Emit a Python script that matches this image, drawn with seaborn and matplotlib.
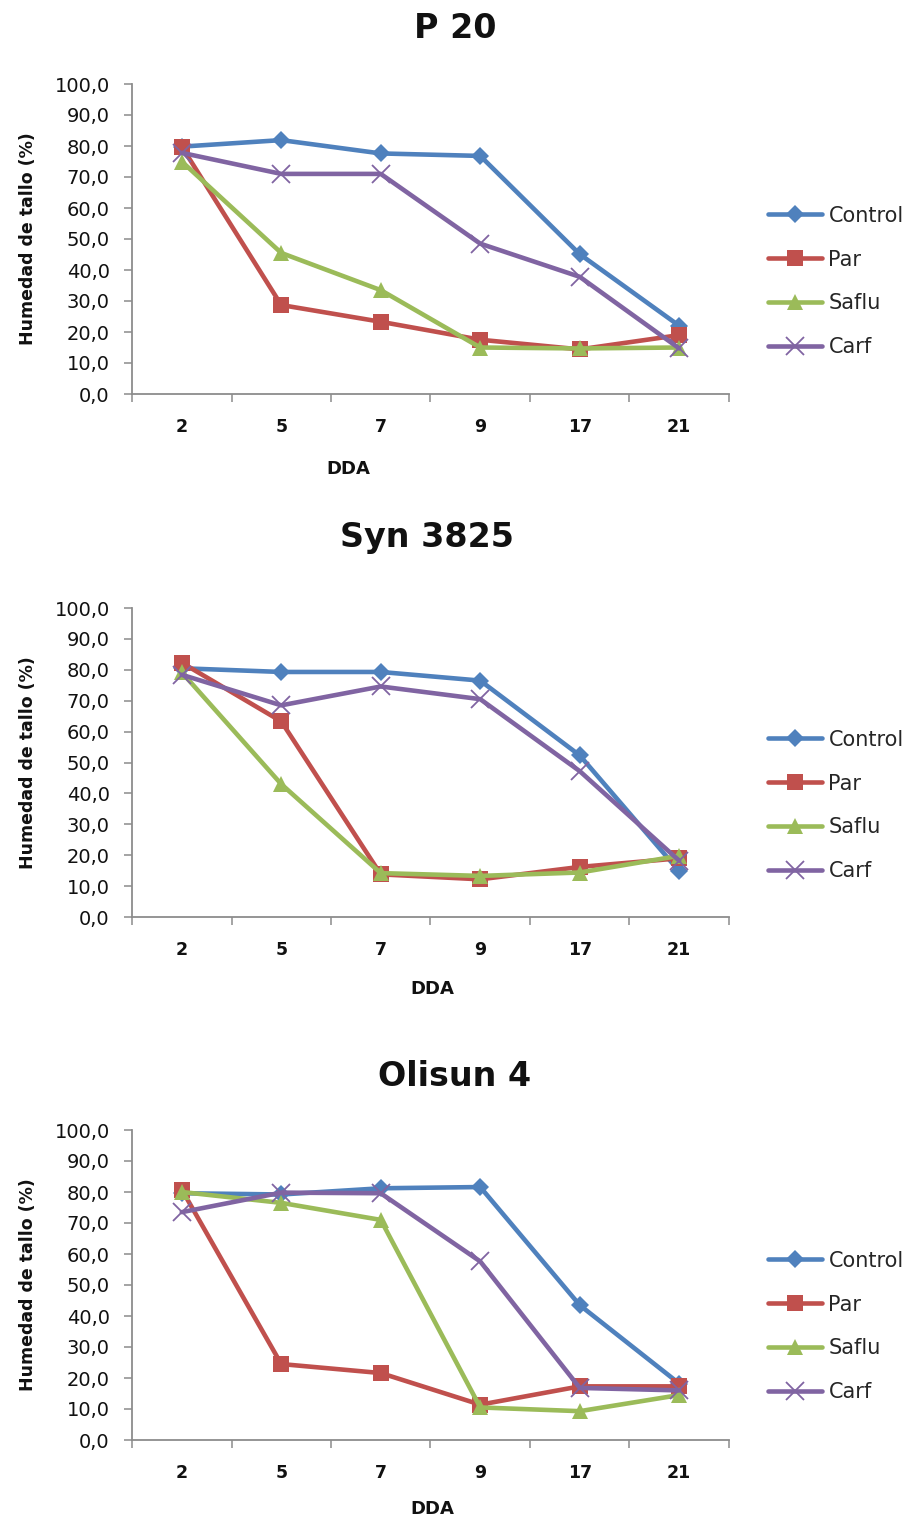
import numpy as np
import pandas as pd
import matplotlib
matplotlib.use("Agg")
import matplotlib.pyplot as plt
from matplotlib.ticker import FuncFormatter, FixedLocator
import seaborn as sns

# ---------------- data ----------------
dda = ["2", "5", "7", "9", "17", "21"]
treatments = ["Control", "Par", "Saflu", "Carf"]
y_ticks = [0, 10, 20, 30, 40, 50, 60, 70, 80, 90, 100]
panel_titles = ["P 20", "Syn 3825", "Olisun 4"]
x_label = "DDA"
y_label = "Humedad de tallo (%)"

p20_control = [79.8, 81.9, 77.6, 76.8, 45.1, 22.0]
p20_par = [79.8, 28.7, 23.3, 17.5, 14.4, 19.0]
p20_saflu = [75.0, 45.5, 33.5, 15.0, 14.7, 15.0]
p20_carf = [77.8, 71.0, 71.0, 48.5, 37.8, 14.7]

syn_control = [80.5, 79.3, 79.3, 76.5, 52.3, 14.8]
syn_par = [82.3, 63.3, 13.8, 12.2, 16.2, 19.0]
syn_saflu = [79.2, 43.0, 14.2, 13.3, 14.4, 19.8]
syn_carf = [78.4, 68.5, 74.6, 70.5, 47.2, 18.2]

oli_control = [79.6, 79.2, 81.2, 81.6, 43.5, 18.2]
oli_par = [80.8, 24.5, 21.6, 11.4, 17.3, 17.3]
oli_saflu = [80.0, 76.5, 71.0, 10.5, 9.3, 14.5]
oli_carf = [73.5, 79.8, 79.6, 57.6, 16.8, 16.0]

panels = [
    [p20_control, p20_par, p20_saflu, p20_carf],
    [syn_control, syn_par, syn_saflu, syn_carf],
    [oli_control, oli_par, oli_saflu, oli_carf],
]

# ---------------- style ----------------
palette = {"Control": "#4F81BD", "Par": "#C0504D", "Saflu": "#9BBB59", "Carf": "#8064A2"}
markers = {"Control": "D", "Par": "s", "Saflu": "^", "Carf": "o"}
final_marker = {"Control": "D", "Par": "s", "Saflu": "^", "Carf": "x"}
msize = {"Control": 9, "Par": 11, "Saflu": 11, "Carf": 13}

sns.set_theme(style="white")
plt.rcParams["font.family"] = ["DejaVu Sans"]

W, H = 912, 1519
fig = plt.figure(figsize=(W / 100, H / 100), dpi=100)

# axes boxes in pixels: (left, top, right, bottom)
boxes = [(132, 84, 729, 394), (132, 608, 729, 917), (132, 1130, 729, 1440)]
title_pos = [(455, 28), (427, 538), (455, 1076)]
xlabel_pos = [(348, 460), (432, 980), (432, 1500)]
legend_center = [281.5, 805.5, 1326.5]

spine_col = "#8c8c8c"

for i, (vals, box) in enumerate(zip(panels, boxes)):
    l, t, r, b = box
    ax = fig.add_axes([l / W, 1 - b / H, (r - l) / W, (b - t) / H])
    rows = []
    for tr, series in zip(treatments, vals):
        for pos, v in enumerate(series):
            rows.append({"pos": pos, "value": v, "treatment": tr})
    df = pd.DataFrame(rows)
    sns.lineplot(data=df, x="pos", y="value", hue="treatment", style="treatment",
                 hue_order=treatments, style_order=treatments, palette=palette,
                 markers=markers, dashes=False, linewidth=3.3, errorbar=None,
                 sort=False, legend=False, ax=ax)
    for line, tr in zip(ax.lines, treatments):
        c = palette[tr]
        line.set_marker(final_marker[tr])
        line.set_markeredgecolor(c)
        line.set_markerfacecolor(c)
        line.set_markersize(msize[tr])
        line.set_markeredgewidth(1.3 if tr == "Carf" else 0)
        line.set_solid_joinstyle("round")

    ax.set_ylim(0, 100)
    ax.set_xlim(-0.5, len(dda) - 0.5)
    ax.yaxis.set_major_locator(FixedLocator(y_ticks))
    ax.yaxis.set_major_formatter(FuncFormatter(lambda v, p: f"{v:.1f}".replace(".", ",")))
    ax.xaxis.set_major_locator(FixedLocator(np.arange(len(dda))))
    ax.set_xticklabels(dda, fontweight="bold", fontsize=12.5)
    ax.xaxis.set_minor_locator(FixedLocator(np.arange(len(dda) + 1) - 0.5))
    ax.tick_params(axis="x", which="major", length=0, pad=17, labelcolor="#111111")
    ax.tick_params(axis="x", which="minor", length=6, width=1.1, color=spine_col, direction="out", bottom=True)
    ax.tick_params(axis="y", which="major", length=6, width=1.1, color=spine_col, direction="out",
                   left=True, pad=10, labelsize=14, labelcolor="#111111")
    for s in ["top", "right"]:
        ax.spines[s].set_visible(False)
    for s in ["left", "bottom"]:
        ax.spines[s].set_color(spine_col)
        ax.spines[s].set_linewidth(1.3)
    ax.grid(False)

    ax.set_ylabel(y_label, fontweight="bold", fontsize=12.5, color="#111111")
    ax.yaxis.set_label_coords((37 - l) / (r - l), 0.5)
    ax.set_xlabel(x_label, fontweight="bold", fontsize=13, color="#111111", va="top")
    xl, yl = xlabel_pos[i]
    ax.xaxis.set_label_coords((xl - l) / (r - l), -(yl - b) / (b - t))

    tx, ty = title_pos[i]
    fig.text(tx / W, 1 - ty / H, panel_titles[i], ha="center", va="center",
             fontsize=24, fontweight="bold", color="#111111")

    ax.legend(ax.lines[:4], treatments, loc="center left",
              bbox_to_anchor=(768 / W, 1 - legend_center[i] / H), bbox_transform=fig.transFigure,
              frameon=False, fontsize=15, borderpad=0, borderaxespad=0,
              handlelength=2.6, handletextpad=0.3, labelspacing=1.15, numpoints=1)

fig.savefig("out.png", dpi=100)
